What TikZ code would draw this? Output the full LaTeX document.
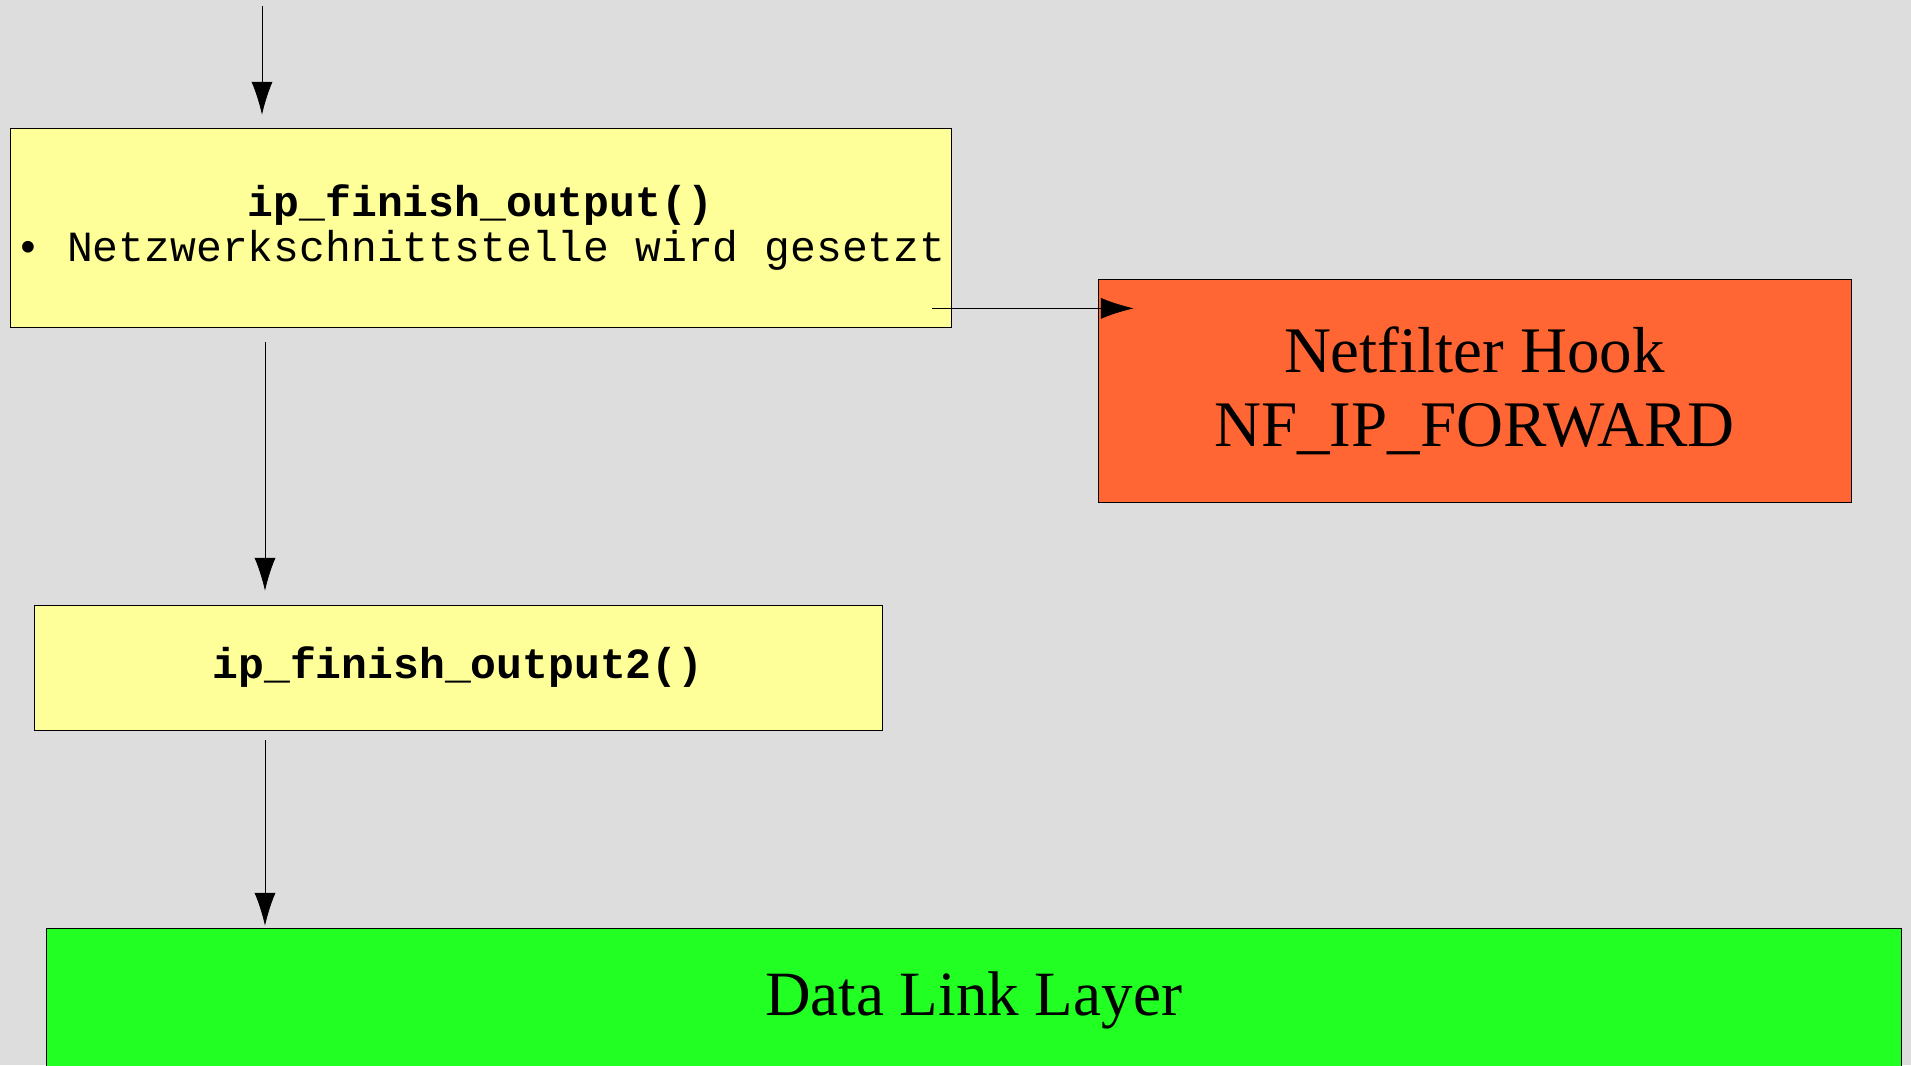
\documentclass[tikz,border=0pt]{standalone}
\usepackage{fontspec}
\setmainfont{Liberation Serif}
\setmonofont{Liberation Mono}
\usetikzlibrary{arrows.meta}

\definecolor{bggray}{HTML}{DDDDDD}
\definecolor{funcyellow}{HTML}{FFFF99}
\definecolor{hookorange}{HTML}{FF6633}
\definecolor{layergreen}{HTML}{22FF22}

\begin{document}
\begin{tikzpicture}[
            x=0.2mm, y=-0.2mm,
            func/.style={draw, thin, fill=funcyellow, inner sep=0pt, align=center,
                font=\ttfamily\fontsize{24.5}{26.1}\selectfont},
            big/.style={draw, thin, inner sep=0pt, align=center,
                font=\fontsize{35.9}{40.8}\selectfont},
            arr/.style={draw, thin, -{Latex[length=18.7pt, width=12pt]}}
            ]
        \fill[bggray] (0,0) rectangle (1911,1065);
        \useasboundingbox (0,0) rectangle (1911,1065);

        \node[func, minimum width=188.2mm, minimum height=39.8mm] (fin) at (480.5,227.5)
            {\textbf{ip\_finish\_output()}\\• Netzwerkschnittstelle wird gesetzt};
        \node[func, minimum width=169.6mm, minimum height=25mm] (fin2) at (458,667.5)
            {\textbf{ip\_finish\_output2()}};
        \node[big, fill=hookorange, minimum width=150.6mm, minimum height=44.6mm,
            font=\fontsize{37}{42}\selectfont] (hook) at (1474.5,390.5)
            {Netfilter Hook\\NF\_IP\_FORWARD};
        \node[big, fill=layergreen, minimum width=371mm, minimum height=28.8mm] (dll) at (973.5,1000)
            {Data Link Layer};

        % packet coming in from above
        \coordinate (in) at (262,6);
        \coordinate (down) at (265,6);
        \draw[arr, shorten >=2.6mm] (in) -- (in |- fin.north);
        \draw[arr, shorten <=3mm, shorten >=2.8mm] (fin.south -| down) -- (fin2.north -| down);
        \draw[arr, shorten <=2mm, shorten >=0.4mm] (fin2.south -| down) -- (dll.north -| down);

        % side branch into the hook
        \draw[arr, shorten >=-7.2mm] ([xshift=-3.8mm, yshift=3.8mm]fin.south east) coordinate (out)
            -- (out -| hook.west);
\end{tikzpicture}
\end{document}
